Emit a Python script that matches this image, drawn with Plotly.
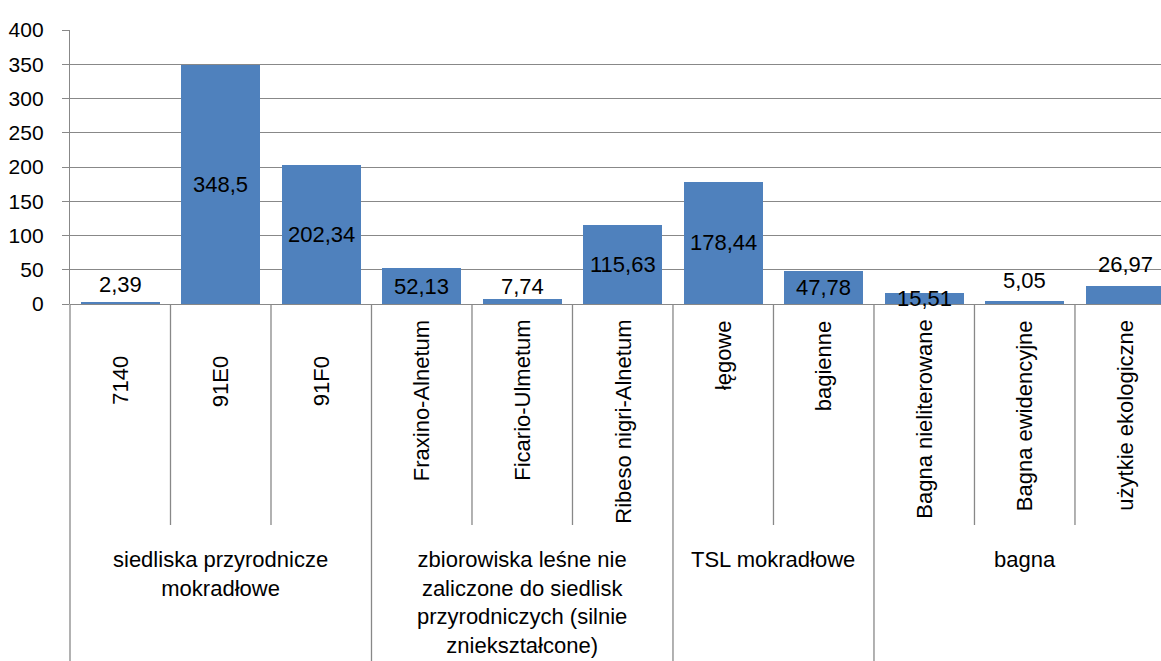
import plotly.graph_objects as go

# Wetland area by habitat / forest community type
categories = ["7140", "91E0", "91F0", "Fraxino-Alnetum", "Ficario-Ulmetum",
              "Ribeso nigri-Alnetum", "łęgowe", "bagienne",
              "Bagna nieliterowane", "Bagna ewidencyjne", "użytkie ekologiczne"]
values = [2.39, 348.5, 202.34, 52.13, 7.74, 115.63, 178.44, 47.78, 15.51, 5.05, 26.97]

groups = ["siedliska przyrodnicze<br>mokradłowe",
          "zbiorowiska leśne nie<br>zaliczone do siedlisk<br>przyrodniczych (silnie<br>zniekształcone)",
          "TSL mokradłowe",
          "bagna"]
group_sizes = [3, 3, 2, 3]

y_ticks = [0, 50, 100, 150, 200, 250, 300, 350, 400]

# value label placement: "c" = centred in the bar, otherwise pixels above the bar top
label_lift = ["18", "c", "c", "c", "12", "c", "c", "c", "c", "20", "21"]
# top of each rotated category label, in pixels below the baseline
cat_label_drop = [50, 50, 50, 14, 14, 14, 14, 14, 14, 14, 14]

FONT = "Liberation Sans, Arial, sans-serif"
TXT_SIZE = 22
GRID = "#888888"
BAR = "#4F81BD"

W, H = 1161, 661
M_L, M_T, M_B = 70, 30, 357
plot_h = H - M_T - M_B
x_lo, x_hi = -0.5, 10.356

x_idx = list(range(len(categories)))

fig = go.Figure(go.Bar(
    x=x_idx, y=values, width=0.79,
    marker=dict(color=BAR, line=dict(width=0)),
    hoverinfo="skip",
))


def px_to_paper_y(px_below):
    return -px_below / plot_h


def data_to_paper_x(xv):
    return (xv - x_lo) / (x_hi - x_lo)


annotations = []
shapes = []

# value labels
for i, v in enumerate(values):
    txt = f"{v}".replace(".", ",")
    if label_lift[i] == "c":
        annotations.append(dict(x=i, y=v / 2, xref="x", yref="y", text=txt,
                                showarrow=False, yanchor="middle",
                                font=dict(family=FONT, size=TXT_SIZE, color="#000")))
    else:
        annotations.append(dict(x=i, y=v, xref="x", yref="y", text=txt,
                                showarrow=False, yanchor="middle",
                                yshift=int(label_lift[i]),
                                font=dict(family=FONT, size=TXT_SIZE, color="#000")))

# rotated category labels
for i, c in enumerate(categories):
    annotations.append(dict(x=i, y=px_to_paper_y(cat_label_drop[i]), xref="x", yref="paper",
                            text=c, showarrow=False, textangle=-90,
                            xanchor="center", yanchor="top",
                            font=dict(family=FONT, size=TXT_SIZE, color="#000")))

# group labels and divider lines
start = 0
group_edges = [-0.5]
for g, n in zip(groups, group_sizes):
    centre = start + (n - 1) / 2
    annotations.append(dict(x=centre, y=px_to_paper_y(241), xref="x", yref="paper",
                            text=g, showarrow=False, xanchor="center", yanchor="top",
                            align="center",
                            font=dict(family=FONT, size=TXT_SIZE, color="#000")))
    start += n
    group_edges.append(start - 0.5)

for k in range(len(categories)):
    edge = k - 0.5
    long_line = edge in group_edges
    y_end = px_to_paper_y(H - M_T - plot_h) if long_line else px_to_paper_y(221)
    shapes.append(dict(type="line", xref="paper", yref="paper",
                       x0=data_to_paper_x(edge), x1=data_to_paper_x(edge),
                       y0=0, y1=y_end, line=dict(color=GRID, width=1.3)))

fig.update_layout(
    width=W, height=H,
    margin=dict(l=M_L, r=0, t=M_T, b=M_B, pad=0),
    paper_bgcolor="white", plot_bgcolor="white",
    showlegend=False,
    bargap=0,
    annotations=annotations,
    shapes=shapes,
    xaxis=dict(range=[x_lo, x_hi], showticklabels=False, showgrid=False,
               zeroline=False, showline=False, ticks="", fixedrange=True),
    yaxis=dict(range=[0, 400], tickvals=y_ticks, ticktext=[str(t) for t in y_ticks],
               showgrid=True, gridcolor=GRID, gridwidth=1.3,
               zeroline=True, zerolinecolor=GRID, zerolinewidth=1.3,
               showline=True, linecolor=GRID, linewidth=1.3,
               ticks="outside", ticklen=7, tickcolor=GRID, tickwidth=1.3,
               ticklabelstandoff=14,
               tickfont=dict(family=FONT, size=21, color="#000"),
               fixedrange=True),
)

fig.write_html("out.html")
